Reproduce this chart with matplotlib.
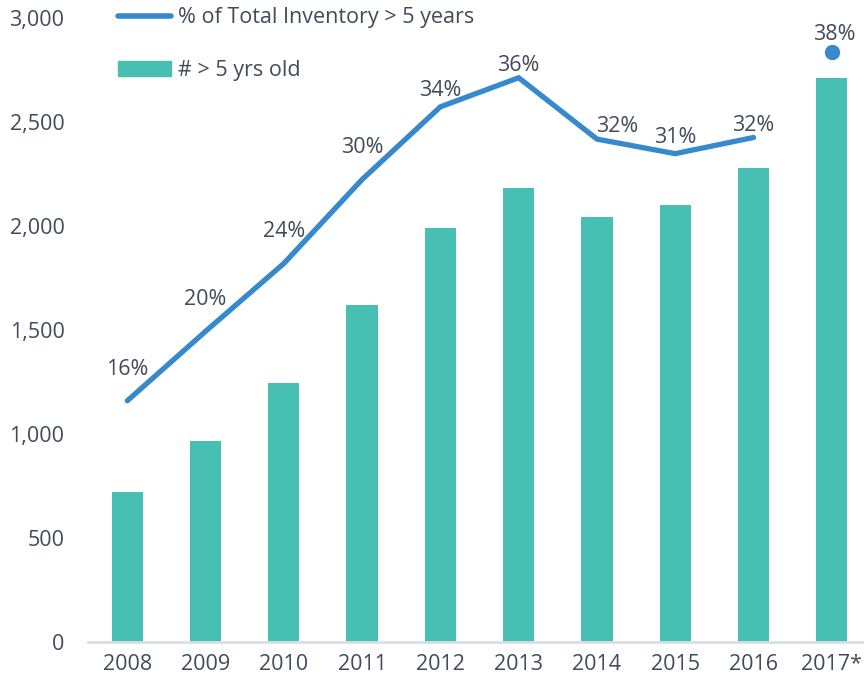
import matplotlib.pyplot as plt
import numpy as np
from matplotlib.lines import Line2D
from matplotlib.patches import Patch

plt.rcParams['font.family'] = ['Open Sans', 'DejaVu Sans']

# data
years = ['2008', '2009', '2010', '2011', '2012', '2013', '2014', '2015', '2016', '2017*']
old_count = [721, 966, 1245, 1620, 1990, 2183, 2043, 2101, 2279, 2712]
pct_old = [0.160, 0.203, 0.245, 0.297, 0.342, 0.360, 0.322, 0.313, 0.323, 0.376]

TEXT = '#414B59'
BAR = '#47BFB2'
LINE = '#3589CC'
FS = 15.5

fig = plt.figure(figsize=(8.64, 6.88), dpi=100)
ax = fig.add_axes([0.102, 0.0669, 0.906, 0.907])
x = np.arange(len(years))

ax.bar(x, old_count, width=0.4, color=BAR, zorder=2)
ax.set_xlim(-0.5, len(years) - 0.5)
ax.set_ylim(0, 3000)
ax.set_yticks(np.arange(0, 3001, 500))
ax.yaxis.set_major_formatter(plt.FuncFormatter(lambda v, p: '{:,.0f}'.format(v)))
ax.set_xticks(x)
ax.set_xticklabels(years)
ax.tick_params(axis='both', length=0, labelsize=FS, colors=TEXT)
ax.tick_params(axis='x', pad=9)
ax.tick_params(axis='y', pad=17)
for s in ['top', 'right', 'left']:
    ax.spines[s].set_visible(False)
ax.spines['bottom'].set_color('#D9DEE6')
ax.spines['bottom'].set_linewidth(2)

ax2 = ax.twinx()
ax2.set_ylim(0.0107, 0.397)
ax2.axis('off')
# line stops at 2016, 2017 is a single estimate dot
ax2.plot(x[:-1], pct_old[:-1], color=LINE, lw=3.8, solid_capstyle='round', solid_joinstyle='miter', zorder=3)
ax2.plot(x[-1], pct_old[-1], 'o', color=LINE, ms=10, zorder=3)

# label offsets from each point, in pixels
lab_dx = [0, 0, 0, 0, 0, 0, 20, 0, 0, 3]
lab_dy = [31, 32, 32, 32, 16, 12, 13, 16, 12, 17]
for i in range(len(years)):
    ax2.annotate('{:.0f}%'.format(pct_old[i] * 100), (x[i], pct_old[i]),
                 xytext=(lab_dx[i], lab_dy[i]), textcoords='offset pixels',
                 ha='center', va='center', fontsize=FS, color=TEXT)

handles = [Line2D([0], [0], color=LINE, lw=4, solid_capstyle='round'),
           Patch(color=BAR)]
leg = ax.legend(handles, ['% of Total Inventory > 5 years', '# > 5 yrs old'],
                loc='upper left', bbox_to_anchor=(0.013, 1.048), frameon=False,
                fontsize=FS, labelcolor=TEXT, handlelength=2.5, handletextpad=0.3,
                labelspacing=1.45, handleheight=0.7)

fig.savefig('out.png', dpi=100)
